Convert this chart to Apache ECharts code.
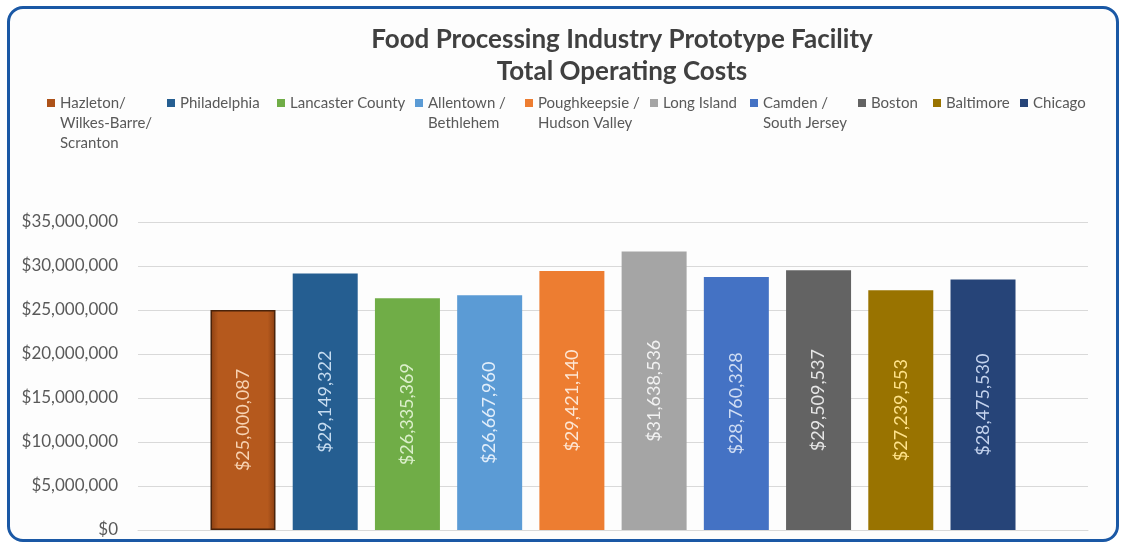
<!DOCTYPE html>
<html>
<head>
<meta charset="utf-8">
<style>
  html, body { margin: 0; padding: 0; background: #fff; }
  .wrap { position: relative; width: 1121px; height: 543px; overflow: hidden; }
  .frame {
    position: absolute; left: 7px; top: 6px; width: 1112px; height: 536px;
    box-sizing: border-box; border: 3.5px solid #1a58a5; border-radius: 16px;
    background: #fdfdfd;
  }
  .main { position: absolute; left: 0; top: 0; width: 1121px; height: 543px; }
</style>
<script src="https://cdn.jsdelivr.net/npm/echarts@6/dist/echarts.min.js"></script>
</head>
<body>
<div class="wrap">
  <div class="frame"></div>
  <div class="main"></div>
</div>
<script>
// data
var cities = [
  'Hazleton/\nWilkes-Barre/\nScranton',
  'Philadelphia',
  'Lancaster County',
  'Allentown /\nBethlehem',
  'Poughkeepsie /\nHudson Valley',
  'Long Island',
  'Camden /\nSouth Jersey',
  'Boston',
  'Baltimore',
  'Chicago'
]
var costs = [25000087, 29149322, 26335369, 26667960, 29421140, 31638536, 28760328, 29509537, 27239553, 28475530]
var yTicks = [0, 5000000, 10000000, 15000000, 20000000, 25000000, 30000000, 35000000]

var barColors = ['#ad5219', '#255e91', '#70ad47', '#5b9bd5', '#ed7d31', '#a5a5a5', '#4472c4', '#636363', '#997300', '#264478']
var labelColors = ['#f7d2b2', '#c6dcf0', '#dcf0cc', '#e2eefa', '#fde6d4', '#f2f2f2', '#d0ddf3', '#e6e6e6', '#ffe38a', '#c4d3ee']
// legend icon x positions, one legend per item
var legendX = [47, 167, 277, 415, 525, 650, 750, 858, 933, 1020]

var FONT = 'Lato'
var money = function(v) { return '$' + Number(v).toLocaleString('en-US') }

var myChart = echarts.init(document.querySelector('.wrap .main'))

var legends = cities.map(function(name, i) {
  var lines = name.split('\n').length
  return {
    left: legendX[i],
    top: 103 - (lines - 0.5) * 20,
    padding: 0,
    itemWidth: 8,
    itemHeight: 8,
    icon: 'rect',
    selectedMode: false,
    data: [{
      name: name,
      itemStyle: { color: barColors[i], borderWidth: 0 }
    }],
    // blank lines on top so the first line sits next to the icon
    formatter: function(n) {
      return new Array(lines).join('\n') + n
    },
    textStyle: {
      color: '#595959',
      fontFamily: FONT,
      fontSize: 15,
      lineHeight: 20
    }
  }
})

var series = cities.map(function(name, i) {
  var s = {
    name: name,
    type: 'bar',
    barWidth: 65,
    barGap: '26.5%',
    data: [costs[i]],
    itemStyle: { color: barColors[i] },
    label: {
      show: true,
      position: 'inside',
      rotate: 90,
      color: labelColors[i],
      fontFamily: FONT,
      fontSize: 18,
      formatter: function(p) { return money(p.value) }
    }
  }
  if (i === 0) {
    // bevelled look on the first bar
    s.itemStyle = {
      color: {
        type: 'linear', x: 0, y: 0, x2: 1, y2: 0,
        colorStops: [
          { offset: 0, color: '#8a3f12' },
          { offset: 0.12, color: '#b5591d' },
          { offset: 0.88, color: '#b5591d' },
          { offset: 1, color: '#8a3f12' }
        ]
      },
      borderColor: '#4a230a',
      borderWidth: 1.5
    }
  }
  return s
})

myChart.setOption({
  animation: false,
  backgroundColor: 'transparent',
  title: {
    text: 'Food Processing Industry Prototype Facility\nTotal Operating Costs',
    left: 622,
    top: 24,
    padding: 0,
    textAlign: 'center',
    textStyle: {
      color: '#404040',
      fontFamily: FONT,
      fontWeight: 'bold',
      fontSize: 26,
      lineHeight: 32
    }
  },
  legend: legends,
  grid: {
    left: 138,
    right: 33,
    top: 222,
    bottom: 13,
    containLabel: false
  },
  xAxis: {
    type: 'category',
    data: [''],
    axisLine: { show: true, lineStyle: { color: '#d9d9d9' } },
    axisTick: { show: false },
    axisLabel: { show: false }
  },
  yAxis: {
    type: 'value',
    min: yTicks[0],
    max: yTicks[yTicks.length - 1],
    interval: yTicks[1] - yTicks[0],
    axisLine: { show: false },
    axisTick: { show: false },
    splitLine: { lineStyle: { color: '#d9d9d9', width: 1 } },
    axisLabel: {
      color: '#595959',
      fontFamily: FONT,
      fontSize: 17,
      margin: 20,
      formatter: money
    }
  },
  series: series
})

window.addEventListener('resize', function() {
  myChart.resize()
})
</script>
</body>
</html>
